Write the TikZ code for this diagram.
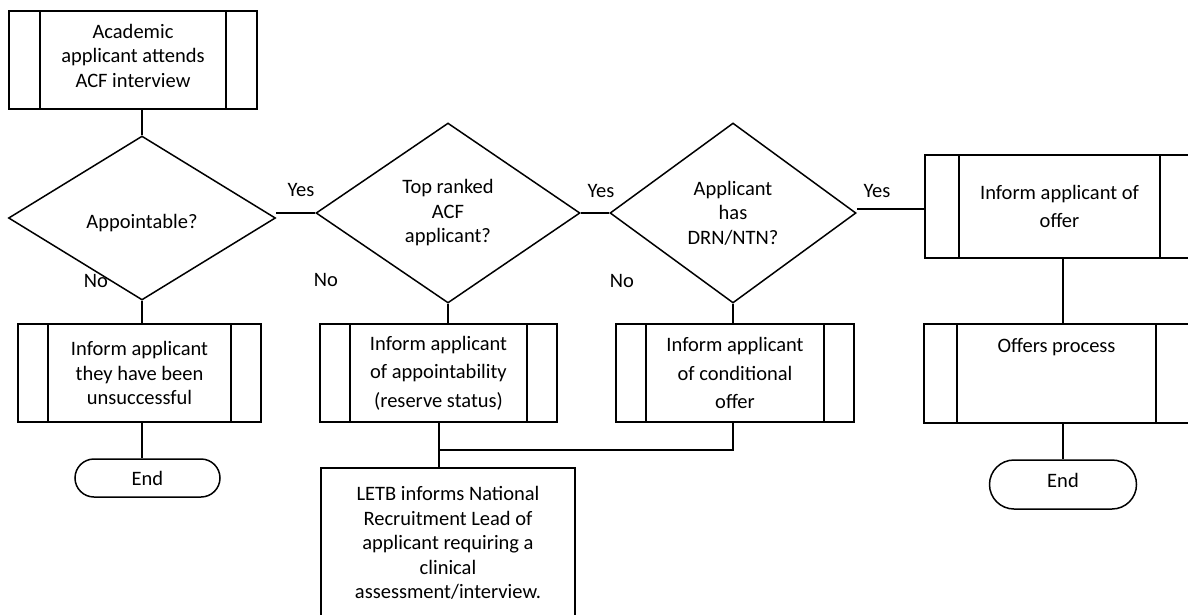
\documentclass[tikz,border=0pt]{standalone}
\usepackage{fontspec}
\setmainfont{Carlito}
\usetikzlibrary{shapes.geometric,shapes.misc}

\tikzset{
  every node/.style={font=\fontsize{20.5}{24.5}\selectfont},
  wide/.style={font=\fontsize{20.5}{28.5}\selectfont},
  conn/.style={line width=1.5pt},
  subproc/.style={draw, rectangle, line width=1.5pt, align=center, inner sep=0pt,
    path picture={
      \draw[line width=1.5pt] ([xshift=#1]path picture bounding box.north west) -- ([xshift=#1]path picture bounding box.south west);
      \draw[line width=1.5pt] ([xshift=-#1]path picture bounding box.north east) -- ([xshift=-#1]path picture bounding box.south east);
    }},
  subproc/.default=30pt,
  decision/.style={draw, diamond, line width=1.5pt, align=center, inner sep=0pt},
  plainbox/.style={draw, rectangle, line width=1.5pt, align=center, inner sep=0pt},
  terminal/.style={draw, rounded rectangle, line width=1.5pt, inner sep=0pt},
  answer/.style={inner sep=0pt}
}

\begin{document}
\begin{tikzpicture}[x=1pt,y=-1pt]
\useasboundingbox (0,0) rectangle (1188,614);
\clip (0,0) rectangle (1188,614);

  % left column
  \node[subproc=31pt, minimum width=248pt, minimum height=98pt, text depth=9pt] (interview) at (133,60) {Academic\\applicant attends\\ACF interview};
  \node[decision, minimum width=267pt, minimum height=164pt, text height=24pt] (appointable) at (142,218) {Appointable?};
  \node[subproc, minimum width=243pt, minimum height=98pt] (unsuccessful) at (139.5,373) {Inform applicant\\they have been\\unsuccessful};
  \node[terminal, minimum width=145pt, minimum height=38pt] (endleft) at (147.5,478) {End};

  % middle
  \node[decision, minimum width=264pt, minimum height=180pt] (topranked) at (448,213) {Top ranked\\ACF\\applicant?};
  \node[subproc, wide, minimum width=237pt, minimum height=98pt] (reserve) at (438.5,373) {Inform applicant\\of appointability\\(reserve status)};
  \node[plainbox, minimum width=254pt, minimum height=150pt] (letb) at (448,543) {LETB informs National\\Recruitment Lead of\\applicant requiring a\\clinical\\assessment/interview.};

  \node[decision, minimum width=246pt, minimum height=180pt] (hasdrn) at (733,213) {Applicant\\has\\DRN/NTN?};
  \node[subproc, wide, minimum width=238pt, minimum height=98pt] (conditional) at (735,373) {Inform applicant\\of conditional\\offer};
  \coordinate (join) at (439,450);

  % right column
  \node[subproc=34pt, wide, minimum width=269pt, minimum height=103pt] (offer) at (1059.5,206.5) {Inform applicant of\\offer};
  \node[subproc=33pt, minimum width=265pt, minimum height=99pt, text depth=56pt] (process) at (1056.5,373.5) {Offers process};
  \node[terminal, minimum width=147pt, minimum height=49pt, text depth=8pt] (endright) at (1063,484.5) {End};

  % answers
  \node[answer] (yes1) at (301,190) {Yes};
  \node[answer] (yes2) at (601,191) {Yes};
  \node[answer] (yes3) at (877,191) {Yes};
  \node[answer] (no1) at (96,281) {No};
  \node[answer] (no2) at (326,280) {No};
  \node[answer] (no3) at (622,281) {No};

  % connectors
  \draw[conn] (appointable.north) -- (appointable.north |- interview.south);
  \draw[conn] (appointable.south) -- (appointable.south |- unsuccessful.north);
  \draw[conn] (appointable.south |- unsuccessful.south) -- (appointable.south |- endleft.north);
  \draw[conn] (topranked.west -| appointable.east) -- (topranked.west);
  \draw[conn] (topranked.east) -- (hasdrn.west);
  \draw[conn] (topranked.south) -- (topranked.south |- reserve.north);
  \draw[conn] (hasdrn.south) -- (hasdrn.south |- conditional.north);
  \draw[conn] (join |- reserve.south) -- (join |- letb.north);
  \draw[conn] (hasdrn.south |- conditional.south) |- (join);
  \draw[conn] ([yshift=4pt]hasdrn.east) -- ([yshift=4pt]offer.west |- hasdrn.east);
  \draw[conn] (endright.north |- offer.south) -- (endright.north |- process.north);
  \draw[conn] (endright.north |- process.south) -- (endright.north);
\end{tikzpicture}
\end{document}
